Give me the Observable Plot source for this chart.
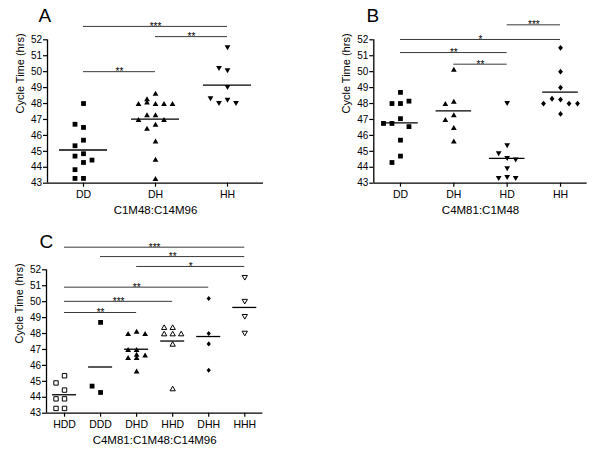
<!DOCTYPE html>
<html><head><meta charset="utf-8">
<script src="https://cdn.jsdelivr.net/npm/d3@7"></script>
<script src="https://cdn.jsdelivr.net/npm/@observablehq/plot@0.6"></script>
<style>
body{margin:0;background:#fff;}
#fig{position:relative;width:600px;height:463px;background:#fff;overflow:hidden;}
#fig svg{position:absolute;}
</style></head><body><div id="fig"></div>
<script>
// ---------- data ----------
const yTicks = [43, 44, 45, 46, 47, 48, 49, 50, 51, 52];
const yLabel = "Cycle Time (hrs)";

// Panel A
const catsA = ["DD", "DH", "HH"];
const a_DD = [48.0, 46.5, 46.7, 45.7, 45.35, 44.85, 44.7, 44.3, 44.45, 43.85, 43.3, 43.3];
const a_DH = [48.65, 48.3, 48.0, 48.0, 48.0, 48.0, 48.1, 47.3, 47.3, 47.0, 47.0, 46.7, 46.45, 45.65, 44.5, 43.3];
const a_HH = [51.5, 50.05, 50.2, 49.0, 48.2, 48.0, 48.0, 48.3];
const sigA = [
  {a: 0, b: 2, y: 52.84, s: "***"},
  {a: 1, b: 2, y: 52.2, s: "**"},
  {a: 0, b: 1, y: 50.0, s: "**"}
];

// Panel B
const catsB = ["DD", "DH", "HD", "HH"];
const b_DD = [48.7, 48.0, 48.0, 48.15, 47.05, 46.75, 46.55, 46.75, 45.7, 44.7, 44.3];
const b_DH = [50.15, 48.15, 48.0, 47.3, 47.0, 46.5, 45.65];
const b_HD = [48.0, 45.35, 44.85, 44.55, 44.45, 43.9, 43.35, 43.3, 43.3];
const b_HH = [51.5, 50.0, 49.0, 48.25, 48.3, 48.0, 48.0, 48.0, 47.35];
const sigB = [
  {a: 2, b: 3, y: 52.94, s: "***"},
  {a: 0, b: 3, y: 52.02, s: "*"},
  {a: 0, b: 2, y: 51.2, s: "**"},
  {a: 1, b: 2, y: 50.47, s: "**"}
];

// Panel C
const catsC = ["HDD", "DDD", "DHD", "HHD", "DHH", "HHH"];
const c_HDD = [45.35, 44.9, 44.45, 43.9, 43.9, 43.3, 43.3];
const c_DDD = [48.7, 44.3, 44.7];
const c_DHD = [48.15, 48.0, 48.0, 47.0, 47.0, 46.65, 46.5, 46.5, 46.7, 45.65];
const c_HHD = [48.4, 48.4, 48.0, 48.0, 48.0, 47.35, 44.55];
const c_DHH = [50.2, 48.0, 47.35, 45.7];
const c_HHH = [51.5, 50.0, 49.05, 48.0];
const sigC = [
  {a: 0, b: 5, y: 53.42, s: "***"},
  {a: 1, b: 5, y: 52.83, s: "**"},
  {a: 2, b: 5, y: 52.21, s: "*"},
  {a: 0, b: 4, y: 50.91, s: "**"},
  {a: 0, b: 3, y: 50.02, s: "***"},
  {a: 0, b: 2, y: 49.32, s: "**"}
];

// ---------- symbols ----------
const R = size => Math.sqrt(size / Math.PI);
const symSquare = {draw(c, s) { const r = R(s); c.moveTo(-r, -r); c.lineTo(r, -r); c.lineTo(r, r); c.lineTo(-r, r); c.closePath(); }};
const symTri = {draw(c, s) { const r = R(s); c.moveTo(0, -r); c.lineTo(1.15 * r, r); c.lineTo(-1.15 * r, r); c.closePath(); }};
const symInv = {draw(c, s) { const r = R(s); c.moveTo(0, r); c.lineTo(1.15 * r, -r); c.lineTo(-1.15 * r, -r); c.closePath(); }};
const symDiamond = {draw(c, s) { const r = R(s); c.moveTo(0, -1.2 * r); c.lineTo(r, 0); c.lineTo(0, 1.2 * r); c.lineTo(-r, 0); c.closePath(); }};

const FONT = "'Liberation Sans', Arial, Helvetica, sans-serif";

function panel(cfg) {
  const {cats, groups, sig, letter, xTitle, width, height, mL, mR, mT, mB, left, top, letterDx, letterDy} = cfg;
  const n = cats.length;
  const bandPx = (width - mL - mR) / n;
  const STEP = 8.5;            // horizontal spacing of a scatter column, px
  const stepU = STEP / bandPx;
  const maxO = Math.max(1, Math.floor(bandPx / 3 / STEP));
  const cands = [0];
  for (let k = 1; k <= maxO; k++) cands.push(-k, k);
  const pxPerUnit = (height - mT - mB) / 9;
  const dotMarks = groups.map((g, i) => {
    const placed = [];
    g.values.forEach(v => {
      let best = null, bestD = -1;
      for (const o of cands) {
        const d = placed.length ? d3.min(placed, p => Math.hypot((p.o - o) * STEP, (p.v - v) * pxPerUnit)) : Infinity;
        if (d >= 8.4) { best = o; bestD = d; break; }
        if (d > bestD) { bestD = d; best = o; }
      }
      placed.push({o: best, v});
    });
    const pts = placed.map(p => ({x: i + p.o * stepU, y: p.v}));
    return Plot.dot(pts, {
      x: "x", y: "y", symbol: g.symbol, r: g.r,
      fill: g.open ? "white" : "black",
      stroke: g.open ? "black" : "none",
      strokeWidth: g.open ? 1 : 0
    });
  });
  const means = groups.map((g, i) => ({i, m: d3.mean(g.values)}));
  const svg = Plot.plot({
    width, height,
    marginLeft: mL, marginRight: mR, marginTop: mT, marginBottom: mB,
    style: {fontFamily: FONT, fontSize: "10px", background: "white", color: "black"},
    x: {type: "linear", domain: [-0.5, n - 0.5]},
    y: {type: "linear", domain: [43, 52]},
    marks: [
      Plot.ruleY(sig, {y: "y", x1: "a", x2: "b", stroke: "#222", strokeWidth: 0.9}),
      Plot.text(sig, {x: d => (d.a + d.b) / 2, y: "y", text: "s", lineAnchor: "bottom", dy: 3.5, fontSize: 10, fill: "black"}),
      Plot.axisY({ticks: yTicks, tickSize: 4, tickPadding: 1.5, fontSize: 10, label: null, strokeWidth: 1.2}),
      Plot.axisX({ticks: d3.range(n), tickFormat: i => cats[i], tickSize: 4, tickPadding: 3, fontSize: 10.5, label: null, strokeWidth: 1.2}),
      Plot.ruleX([-0.5], {y1: 43, y2: 52, strokeWidth: 1.3}),
      Plot.ruleY([43], {x1: -0.5, x2: n - 0.5, strokeWidth: 1.3}),
      ...dotMarks,
      Plot.ruleY(means, {y: "m", x1: d => d.i - 1 / 3, x2: d => d.i + 1 / 3, stroke: "black", strokeWidth: 1.3}),
      Plot.text([xTitle], {frameAnchor: "bottom", dy: 27, lineAnchor: "middle", fontSize: 11.5}),
      Plot.text([yLabel], {frameAnchor: "left", dx: -27.5, dy: 2, rotate: -90, lineAnchor: "middle", fontSize: 11}),
      Plot.text([letter], {frameAnchor: "top-left", dx: letterDx, dy: letterDy, lineAnchor: "middle", fontSize: 19})
    ]
  });
  svg.style.left = left + "px";
  svg.style.top = top + "px";
  document.getElementById("fig").appendChild(svg);
}

panel({
  cats: catsA, letter: "A", xTitle: "C1M48:C14M96", sig: sigA,
  groups: [
    {values: a_DD, symbol: symSquare, r: 2.4},
    {values: a_DH, symbol: symTri, r: 2.5},
    {values: a_HH, symbol: symInv, r: 2.5}
  ],
  width: 300, height: 232, mL: 47, mR: 37, mT: 39.3, mB: 49.3, left: 0, top: 0, letterDx: -9, letterDy: -24.3
});

panel({
  cats: catsB, letter: "B", xTitle: "C4M81:C1M48", sig: sigB,
  groups: [
    {values: b_DD, symbol: symSquare, r: 2.4},
    {values: b_DH, symbol: symTri, r: 2.5},
    {values: b_HD, symbol: symInv, r: 2.5},
    {values: b_HH, symbol: symDiamond, r: 2.4}
  ],
  width: 300, height: 232, mL: 73.3, mR: 13.3, mT: 39.3, mB: 49.3, left: 300, top: 0, letterDx: -7.3, letterDy: -24.3
});

panel({
  cats: catsC, letter: "C", xTitle: "C4M81:C1M48:C14M96", sig: sigC,
  groups: [
    {values: c_HDD, symbol: symSquare, r: 2.2, open: true},
    {values: c_DDD, symbol: symSquare, r: 2.4},
    {values: c_DHD, symbol: symTri, r: 2.5},
    {values: c_HHD, symbol: symTri, r: 2.3, open: true},
    {values: c_DHH, symbol: symDiamond, r: 2.1},
    {values: c_HHH, symbol: symInv, r: 2.3, open: true}
  ],
  width: 300, height: 233, mL: 46, mR: 37.7, mT: 39.3, mB: 50.3, left: 0, top: 230, letterDx: -7, letterDy: -27.8
});
</script></body></html>
